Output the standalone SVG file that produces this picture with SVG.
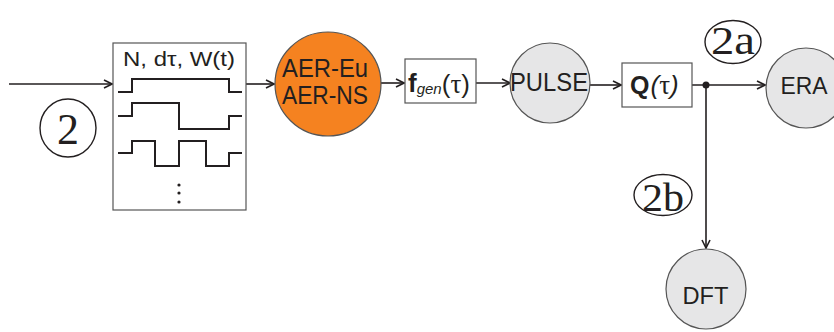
<svg xmlns="http://www.w3.org/2000/svg" width="834" height="332" viewBox="0 0 834 332">
  <defs>
    <style>
      .lbl { font-family: "Liberation Sans", Arial, sans-serif; fill: #231f20; }
      .num { font-family: "Liberation Serif", "Times New Roman", serif; fill: #231f20; }
      .wire { fill: none; stroke: #231f20; stroke-width: 1.6; }
      .wave { fill: none; stroke: #231f20; stroke-width: 2; }
      .box { fill: #ffffff; stroke: #555555; stroke-width: 1.2; }
      .gray { fill: #e6e6e7; stroke: #555555; stroke-width: 1.2; }
      .tag { fill: #ffffff; stroke: #231f20; stroke-width: 1.4; }
    </style>
    <marker id="arr" viewBox="0 0 10 10" refX="9" refY="5" markerWidth="10" markerHeight="10" markerUnits="userSpaceOnUse" orient="auto">
      <path d="M1,1 L9,5 L1,9" fill="none" stroke="#231f20" stroke-width="1.6"/>
    </marker>
  </defs>
  <rect width="834" height="332" fill="#ffffff"/>

  <!-- connectors -->
  <g id="connectors">
    <line class="wire" x1="9" y1="84" x2="112" y2="84" marker-end="url(#arr)"/>
    <line class="wire" x1="246" y1="84" x2="274" y2="84" marker-end="url(#arr)"/>
    <line class="wire" x1="381" y1="83" x2="404" y2="83" marker-end="url(#arr)"/>
    <line class="wire" x1="476" y1="83" x2="510" y2="83" marker-end="url(#arr)"/>
    <line class="wire" x1="590" y1="85" x2="621" y2="85" marker-end="url(#arr)"/>
    <line class="wire" x1="692" y1="85" x2="765" y2="85" marker-end="url(#arr)"/>
    <line class="wire" x1="706" y1="85" x2="706" y2="248" marker-end="url(#arr)"/>
    <circle cx="706" cy="85" r="3.5" fill="#231f20"/>
  </g>

  <!-- pulse-shape parameter block -->
  <g id="waveforms">
    <rect class="box" x="113" y="43" width="133" height="167"/>
    <text class="lbl" x="179" y="66" font-size="21" text-anchor="middle" textLength="112" lengthAdjust="spacingAndGlyphs">N, dτ, W(t)</text>
    <polyline class="wave" points="118,92 132,92 132,79 229,79 229,92 242,92"/>
    <polyline class="wave" points="118,116 132,116 132,103 179,103 179,129 229,129 229,116 242,116"/>
    <polyline class="wave" points="118,153 132,153 132,141 155,141 155,166 179,166 179,141 206,141 206,166 229,166 229,153 242,153"/>
    <circle cx="179" cy="185" r="1.6" fill="#231f20"/>
    <circle cx="179" cy="193" r="1.6" fill="#231f20"/>
    <circle cx="179" cy="202" r="1.6" fill="#231f20"/>
  </g>

  <g id="aer">
    <ellipse cx="328" cy="84" rx="53" ry="52" fill="#f58220" stroke="#555555" stroke-width="1.2"/>
    <text class="lbl" x="325" y="77" font-size="25" text-anchor="middle" textLength="86" lengthAdjust="spacingAndGlyphs">AER-Eu</text>
    <text class="lbl" x="325" y="104" font-size="25" text-anchor="middle" textLength="86" lengthAdjust="spacingAndGlyphs">AER-NS</text>
  </g>

  <g id="fgen">
    <rect class="box" x="405" y="59" width="71" height="44"/>
    <text class="lbl" x="408" y="92" font-size="26"><tspan font-weight="bold">f</tspan><tspan font-size="15" font-style="italic" dy="2">gen</tspan><tspan font-size="26" dy="-1">(</tspan><tspan font-family="Liberation Serif, serif" font-size="27">τ</tspan><tspan font-size="26">)</tspan></text>
  </g>

  <g id="pulse">
    <circle class="gray" cx="550" cy="83" r="40"/>
    <text class="lbl" x="549" y="91" font-size="25" text-anchor="middle" textLength="78" lengthAdjust="spacingAndGlyphs">PULSE</text>
  </g>

  <g id="q">
    <rect class="box" x="622" y="63" width="70" height="44"/>
    <text class="lbl" x="630" y="94" font-size="24"><tspan font-weight="bold" font-size="25">Q</tspan><tspan font-size="26" font-style="italic" dx="1">(</tspan><tspan font-family="Liberation Serif, serif" font-size="27">τ</tspan><tspan font-size="26" font-style="italic">)</tspan></text>
  </g>

  <g id="era">
    <circle class="gray" cx="806" cy="88" r="40"/>
    <text class="lbl" x="804" y="94" font-size="23" text-anchor="middle" textLength="47" lengthAdjust="spacingAndGlyphs">ERA</text>
  </g>

  <g id="dft">
    <circle class="gray" cx="706" cy="289" r="40"/>
    <text class="lbl" x="705.5" y="304" font-size="23" text-anchor="middle" textLength="46" lengthAdjust="spacingAndGlyphs">DFT</text>
  </g>

  <!-- path tags -->
  <g id="tag-2">
    <ellipse class="tag" cx="68" cy="128" rx="28" ry="29"/>
    <text class="num" x="68" y="144" font-size="44" text-anchor="middle">2</text>
  </g>
  <g id="tag-2a">
    <ellipse class="tag" cx="733" cy="42" rx="28" ry="21.5"/>
    <text class="num" x="733" y="54" font-size="40" text-anchor="middle" textLength="44" lengthAdjust="spacingAndGlyphs">2a</text>
  </g>
  <g id="tag-2b">
    <ellipse class="tag" cx="663" cy="195" rx="29" ry="20.5"/>
    <text class="num" x="663" y="211" font-size="40" text-anchor="middle" textLength="42" lengthAdjust="spacingAndGlyphs">2b</text>
  </g>
</svg>
